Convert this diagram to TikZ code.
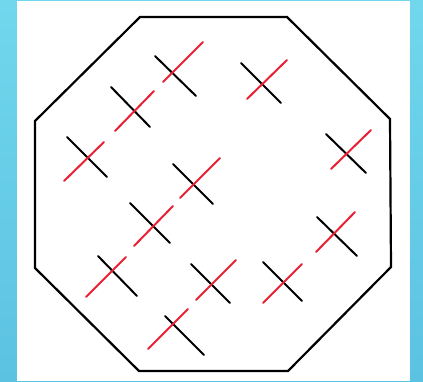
\documentclass[tikz,border=0pt]{standalone}
\definecolor{skytop}{RGB}{112,215,237}
\definecolor{skybot}{RGB}{92,194,226}
\definecolor{crossred}{RGB}{232,34,52}
\begin{document}
\begin{tikzpicture}[x=1pt,y=-1pt,line cap=round]
                \shade[top color=skytop,bottom color=skybot] (0,0) rectangle (423,381);
                \fill[white] (17,1) rectangle (410,381);
                \draw[line width=2.2pt,line join=miter] (140,17)--(287,17)--(390,119)--(391,267)--(288,371)--(139,371)--(35,268)--(35,121)--cycle;
                \foreach \a/\b/\c/\d/\e/\f/\g/\h in {155/56/196/96/163/82/203/42,
                        241/63/281/103/247/99/287/60,
                        111/87/150/127/115/131/154/91,
                        67/137/107/177/64/181/104/142,
                        326/134/366/173/331/169/371/130,
                        173/164/213/204/180/198/220/158,
                        130/203/170/243/134/246/173/206,
                        317/217/357/256/316/252/355/212,
                        98/256/137/296/86/297/126/257,
                        191/264/230/303/196/300/236/260,
                        263/262/302/301/263/303/302/264,
                        165/316/204/355/148/349/188/309}{
                    \draw[line width=2pt] (\a,\b)--(\c,\d);
                    \draw[line width=2pt,crossred] (\e,\f)--(\g,\h);
                }
            \end{tikzpicture}
\end{document}
